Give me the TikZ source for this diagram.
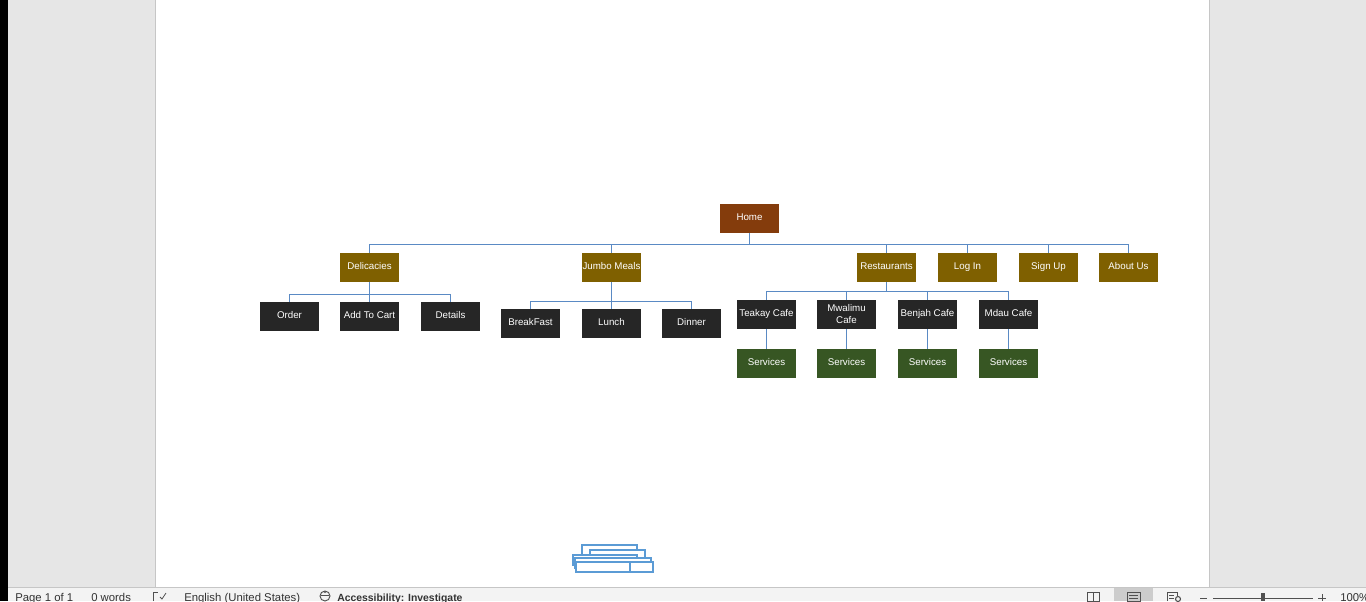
\documentclass[tikz,border=0pt]{standalone}
\usepackage{fontspec}
\setmainfont{Liberation Sans}
\begin{document}
\definecolor{winbg}{HTML}{E6E6E6}
\definecolor{statusbg}{HTML}{F3F3F3}
\definecolor{rulegrey}{HTML}{C6C6C6}
\definecolor{homefill}{HTML}{843C0C}
\definecolor{catfill}{HTML}{7F6000}
\definecolor{leaffill}{HTML}{262626}
\definecolor{servfill}{HTML}{375623}
\definecolor{linkblue}{HTML}{5A8AC4}
\definecolor{selblue}{HTML}{5B9BD5}
\definecolor{icongrey}{HTML}{505050}
\begin{tikzpicture}[x=0.75pt,y=-0.75pt,
  box/.style={rectangle, minimum width=59*0.75pt, minimum height=29*0.75pt,
    inner sep=0pt, text=white, font=\fontsize{7.3}{9}\selectfont, align=center,
    text height=5.5pt, text depth=2.6pt},
  homebox/.style={box, fill=homefill},
  catbox/.style={box, fill=catfill},
  leafbox/.style={box, fill=leaffill},
  servbox/.style={box, fill=servfill},
  link/.style={draw=linkblue, line width=0.9pt},
  stat/.style={anchor=base west, inner sep=0pt, font=\fontsize{8.5}{10}\selectfont, text=black!80}]
\useasboundingbox (0,0) rectangle (1366,601);
\clip (0,0) rectangle (1366,601);

% window chrome
\fill[winbg] (0,0) rectangle (1366,601);
\fill[black] (0,0) rectangle (8,601);
\fill[white] (155,0) rectangle (1209,587);
\draw[rulegrey, line width=0.75pt] (155,0) -- (155,587);
\draw[rulegrey, line width=0.75pt] (1209,0) -- (1209,587);

% level 0
\node[homebox] (home) at (749.5,218.5) {Home};

% level 1
\node[catbox] (del)  at (369.5,267.5)  {Delicacies};
\node[catbox] (jum)  at (611.5,267.5)  {Jumbo Meals};
\node[catbox] (res)  at (886.5,267.5)  {Restaurants};
\node[catbox] (log)  at (967.5,267.5)  {Log In};
\node[catbox] (sig)  at (1048.5,267.5) {Sign Up};
\node[catbox] (abt)  at (1128.5,267.5) {About Us};

% delicacies branch
\node[leafbox] (ord) at (289.5,316.5) {Order};
\node[leafbox] (add) at (369.5,316.5) {Add To Cart};
\node[leafbox] (det) at (450.5,316.5) {Details};

% jumbo meals branch
\node[leafbox] (brk) at (530.5,323.5) {BreakFast};
\node[leafbox] (lun) at (611.5,323.5) {Lunch};
\node[leafbox] (din) at (691.5,323.5) {Dinner};

% restaurants branch
\node[leafbox] (tea) at (766.5,314.5)  {Teakay Cafe};
\node[leafbox, text height=, text depth=] (mwa) at (846.5,314.5) {Mwalimu\\Cafe};
\node[leafbox] (ben) at (927.5,314.5)  {Benjah Cafe};
\node[leafbox] (mda) at (1008.5,314.5) {Mdau Cafe};

\node[servbox] (s1) at (766.5,363.5)  {Services};
\node[servbox] (s2) at (846.5,363.5)  {Services};
\node[servbox] (s3) at (927.5,363.5)  {Services};
\node[servbox] (s4) at (1008.5,363.5) {Services};

% connectors
\foreach \c in {del,jum,res,log,sig,abt}
  \draw[link] (home.south) -- ++(0,11) -| (\c.north);
\foreach \c in {ord,add,det}
  \draw[link] (del.south) -- ++(0,12) -| (\c.north);
\foreach \c in {brk,lun,din}
  \draw[link] (jum.south) -- ++(0,19) -| (\c.north);
\foreach \c in {tea,mwa,ben,mda}
  \draw[link] (res.south) -- ++(0,9.5) -| (\c.north);
\draw[link] (tea.south) -- (s1.north);
\draw[link] (mwa.south) -- (s2.north);
\draw[link] (ben.south) -- (s3.north);
\draw[link] (mda.south) -- (s4.north);

% stacked selection frames near the page foot
\begin{scope}[draw=selblue, line width=0.9pt, fill=white]
  \filldraw (582,545) rectangle (637,560);
  \filldraw (590,550) rectangle (645,562);
  \filldraw (573,555) rectangle (637,565);
  \filldraw (575,558) rectangle (651,568);
  \filldraw (576,562) rectangle (653,572);
  \draw (630,562) -- (630,572);
\end{scope}

% status bar
\fill[statusbg] (8,587) rectangle (1366,601);
\draw[rulegrey, line width=0.75pt] (8,587) -- (1366,587);
\node[stat] (pg)  at (15,601)  {Page 1 of 1};
\node[stat] (wd)  at (91,601)  {0 words};
\node[stat] (lg)  at (184,601) {English (United States)};
\node[stat, font=\fontsize{7.8}{10}\selectfont\bfseries] (acc) at (337,601) {Accessibility: Investigate};
% proofing icon
\draw[icongrey, line width=0.6pt] (153,601) -- (153,592) -- (158,592);
\draw[icongrey, line width=0.6pt] (160,597) -- (162,599) -- (166,593);
% accessibility icon
\draw[icongrey, line width=0.7pt] (325,596) circle (5);
\fill[icongrey] (325,592) circle (1.2);
\draw[icongrey, line width=0.7pt] (321,595) -- (329,595);
% view buttons
\fill[black!20] (1114,588) rectangle (1153,601);
\draw[icongrey, line width=0.6pt] (1087,592) rectangle (1099,601);
\draw[icongrey, line width=0.6pt] (1093,592) -- (1093,601);
\draw[icongrey, line width=0.6pt] (1127,592) rectangle (1140,601);
\foreach \yy in {595,598} \draw[icongrey, line width=0.5pt] (1129,\yy) -- (1138,\yy);
\draw[icongrey, line width=0.6pt] (1167,601) -- (1167,592) -- (1177,592) -- (1177,596);
\foreach \yy in {595,598} \draw[icongrey, line width=0.5pt] (1169,\yy) -- (1174,\yy);
\draw[icongrey, line width=0.8pt] (1178,599) circle (2.5);
% zoom slider
\draw[icongrey, line width=0.7pt] (1200,598) -- (1207,598);
\draw[icongrey, line width=0.7pt] (1213,598) -- (1313,598);
\fill[icongrey] (1261,593) rectangle (1265,601);
\draw[icongrey, line width=0.7pt] (1318,598) -- (1326,598) (1322,594) -- (1322,601);
\node[stat] (zm) at (1340,601) {100\%};
\end{tikzpicture}
\end{document}
